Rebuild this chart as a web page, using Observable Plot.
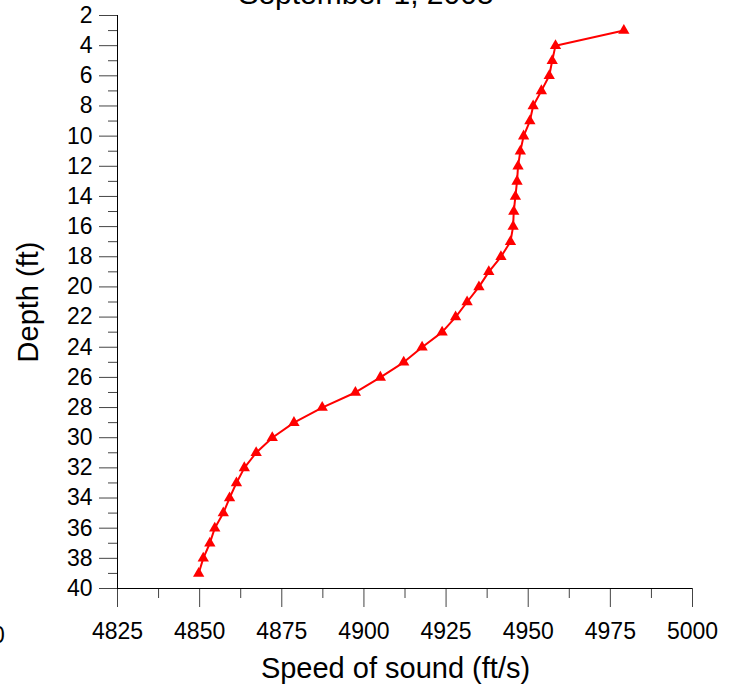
<!DOCTYPE html>
<html>
<head>
<meta charset="utf-8">
<script src="https://cdn.jsdelivr.net/npm/d3@7"></script>
<script src="https://cdn.jsdelivr.net/npm/@observablehq/plot@0.6"></script>
<style>
  html, body { margin: 0; padding: 0; background: #fff; }
  #chart svg { display: block; overflow: hidden; }
</style>
</head>
<body>
<div id="chart"></div>
<script>
const titleText = "September 1, 2005";
const xLabel = "Speed of sound (ft/s)";
const yLabel = "Depth (ft)";

const depths = [3, 4, 5, 6, 7, 8, 9, 10, 11, 12, 13, 14, 15, 16, 17, 18, 19, 20, 21,
  22, 23, 24, 25, 26, 27, 28, 29, 30, 31, 32, 33, 34, 35, 36, 37, 38, 39];
const speeds = [4979.1, 4958.3, 4957.3, 4956.4, 4954.0, 4951.5, 4950.5, 4948.6, 4947.6,
  4946.9, 4946.6, 4946.1, 4945.6, 4945.4, 4944.6, 4941.7, 4938.0, 4935.0, 4931.4,
  4927.9, 4923.8, 4917.7, 4912.1, 4905.0, 4897.4, 4887.3, 4878.7, 4872.1, 4867.2,
  4863.6, 4861.2, 4859.1, 4857.2, 4854.6, 4853.1, 4851.1, 4849.7];

const xMajor = [4825, 4850, 4875, 4900, 4925, 4950, 4975, 5000];
const xMinor = [4837.5, 4862.5, 4887.5, 4912.5, 4937.5, 4962.5, 4987.5];
const yMajor = [2, 4, 6, 8, 10, 12, 14, 16, 18, 20, 22, 24, 26, 28, 30, 32, 34, 36, 38, 40];
const yMinor = [3, 5, 7, 9, 11, 13, 15, 17, 19, 21, 23, 25, 27, 29, 31, 33, 35, 37, 39];

const data = depths.map((d, i) => ({depth: d, speed: speeds[i]}));

const fontFamily = "'Liberation Sans', Arial, Helvetica, sans-serif";

const chart = Plot.plot({
  width: 736,
  height: 690,
  marginLeft: 117,
  marginRight: 44,
  marginTop: 15,
  marginBottom: 102,
  style: {fontFamily, fontSize: "23px", background: "#fff", color: "#000"},
  x: {domain: [4825, 5000], axis: null},
  y: {domain: [2, 40], reverse: true, axis: null},
  marks: [
    Plot.axisY({ticks: yMinor, tickSize: 9, tickFormat: () => "", stroke: "#444", label: null}),
    Plot.axisY({ticks: yMajor, tickSize: 18, tickPadding: 7, tickFormat: d => String(d), stroke: "#444", fill: "#000", fontSize: 23, label: null}),
    Plot.axisX({ticks: xMinor, tickSize: 10, tickFormat: () => "", stroke: "#444", label: null}),
    Plot.axisX({ticks: xMajor, tickSize: 19, tickPadding: 15, tickFormat: d => String(d), stroke: "#444", fill: "#000", fontSize: 23, label: null}),
    Plot.ruleX([4825], {stroke: "#000", strokeWidth: 1}),
    Plot.ruleY([40], {stroke: "#000", strokeWidth: 1}),
    Plot.line(data, {x: "speed", y: "depth", stroke: "#ff0000", strokeWidth: 2, curve: "linear"}),
    Plot.dot(data, {x: "speed", y: "depth", symbol: "triangle", r: 4.2, fill: "#ff0000", stroke: "none"}),
    Plot.text([titleText], {frameAnchor: "top", dx: -39, dy: -12, lineAnchor: "bottom", fontSize: 30, fill: "#000"}),
    Plot.text([yLabel], {frameAnchor: "left", dx: -89, rotate: -90, textAnchor: "middle", lineAnchor: "middle", fontSize: 29, fill: "#000"}),
    Plot.text([xLabel], {frameAnchor: "bottom", dx: -9.5, dy: 80, textAnchor: "middle", lineAnchor: "middle", fontSize: 29, fill: "#000"}),
    Plot.text(["0"], {frameAnchor: "bottom-left", dx: -119, dy: 47, textAnchor: "middle", lineAnchor: "middle", fontSize: 23, fill: "#000"})
  ]
});

document.getElementById("chart").appendChild(chart);
</script>
</body>
</html>
